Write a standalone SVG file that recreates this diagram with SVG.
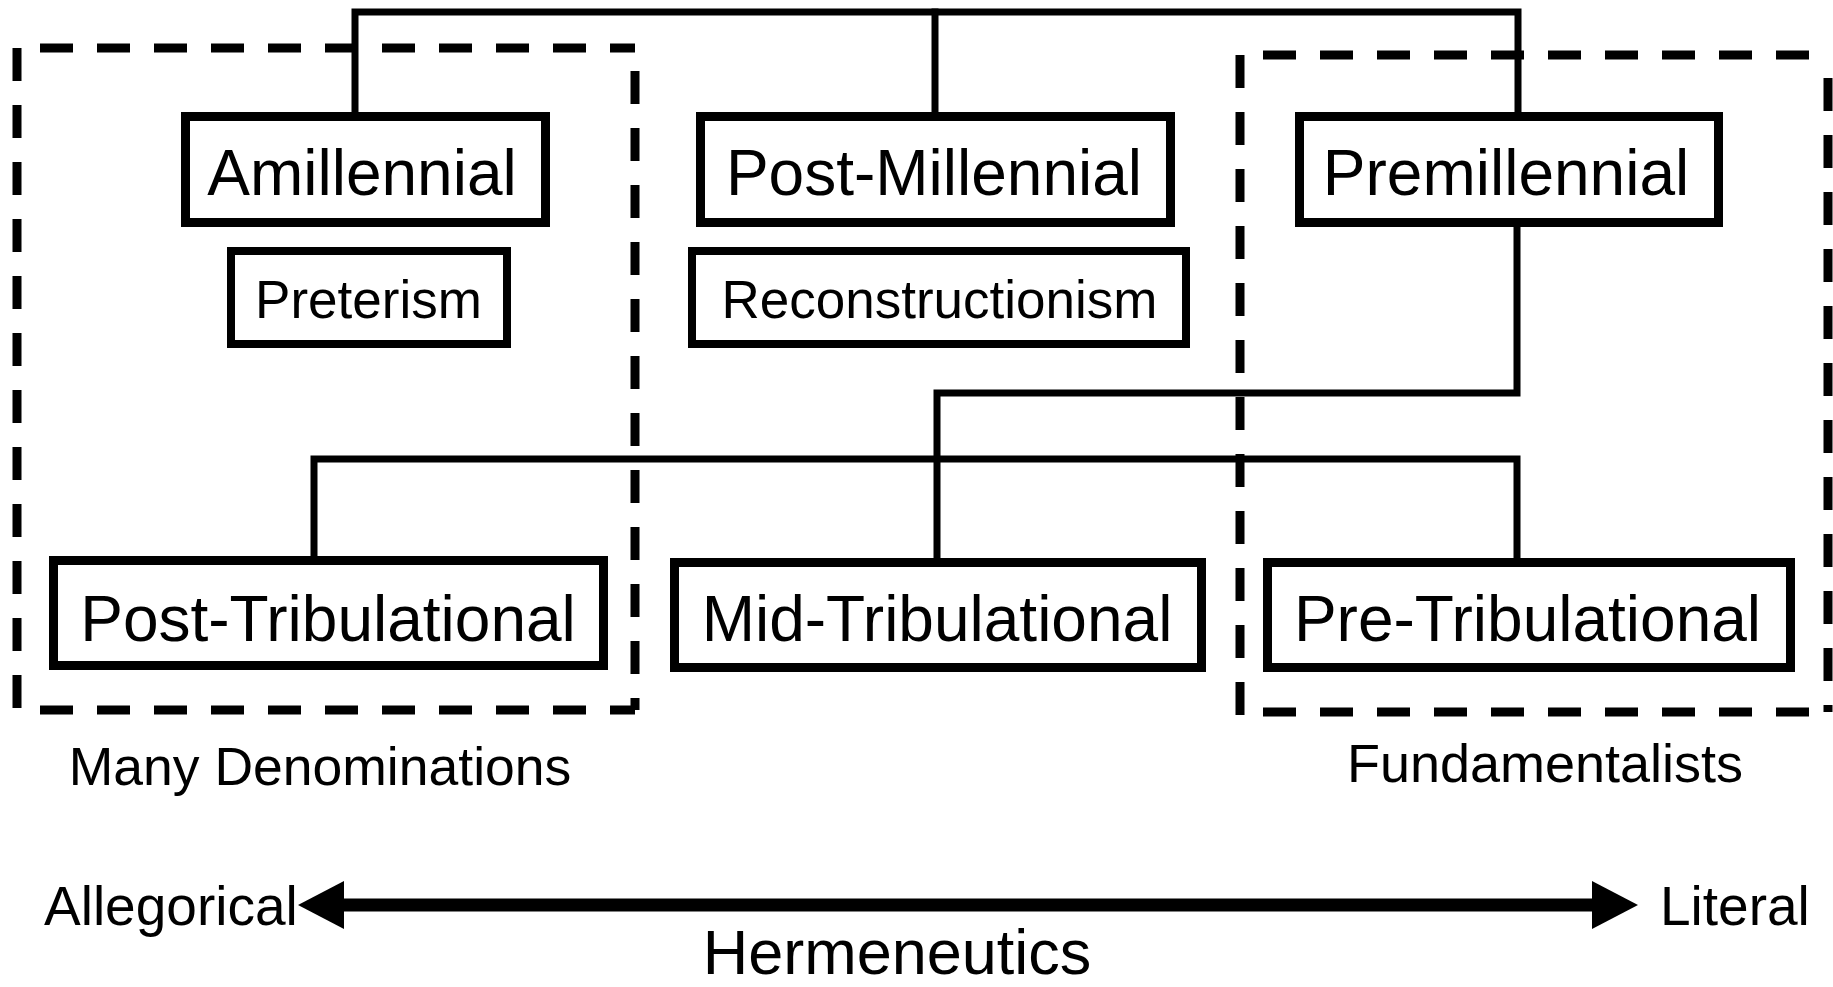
<svg xmlns="http://www.w3.org/2000/svg" width="1833" height="987" viewBox="0 0 1833 987">
<style>
.box{fill:#fff;stroke:#000;stroke-width:9}
.sbox{fill:#fff;stroke:#000;stroke-width:8}
.big{font-family:"Liberation Sans",Arial,sans-serif;font-size:64px;fill:#000;text-anchor:middle}
.mid{font-family:"Liberation Sans",Arial,sans-serif;font-size:53px;fill:#000;text-anchor:middle}
.lbl{font-family:"Liberation Sans",Arial,sans-serif;fill:#000}
.con{stroke:#000;stroke-width:7;fill:none;stroke-linecap:square}
.dash{stroke:#000;stroke-width:9;fill:none;stroke-dasharray:33 24}
</style>
<g id="groups">
  <g id="group-many">
    <line class="dash" x1="17" y1="48" x2="17" y2="714"/>
    <line class="dash" x1="17" y1="48" x2="635" y2="48" stroke-dashoffset="34"/>
    <line class="dash" x1="635" y1="48" x2="635" y2="710" stroke-dashoffset="34"/>
    <line class="dash" x1="17" y1="710" x2="635" y2="710" stroke-dashoffset="34"/>
  </g>
  <g id="group-fund">
    <line class="dash" x1="1240" y1="55" x2="1240" y2="716"/>
    <line class="dash" x1="1240" y1="55" x2="1828" y2="55" stroke-dashoffset="34"/>
    <line class="dash" x1="1828" y1="55" x2="1828" y2="712" stroke-dashoffset="34"/>
    <line class="dash" x1="1240" y1="712" x2="1828" y2="712" stroke-dashoffset="34"/>
  </g>
</g>
<g id="connectors">
  <polyline class="con" points="355,112 355,12 1518,12 1518,112"/>
  <line class="con" x1="935" y1="12" x2="935" y2="112"/>
  <polyline class="con" points="1517,227 1517,393 937,393 937,558"/>
  <polyline class="con" points="314,556 314,459 1517,459 1517,558"/>
</g>
<g id="node-amillennial">
  <rect class="box" x="185.5" y="116.5" width="360" height="106"/>
  <text class="big" x="362" y="195">Amillennial</text>
</g>
<g id="node-postmillennial">
  <rect class="box" x="700.5" y="116.5" width="470" height="106"/>
  <text class="big" x="934" y="195">Post-Millennial</text>
</g>
<g id="node-premillennial">
  <rect class="box" x="1299.5" y="116.5" width="419" height="106"/>
  <text class="big" x="1506" y="195">Premillennial</text>
</g>
<g id="node-preterism">
  <rect class="sbox" x="231" y="251" width="276" height="93"/>
  <text class="mid" x="368.5" y="318">Preterism</text>
</g>
<g id="node-reconstructionism">
  <rect class="sbox" x="692" y="251" width="494" height="93"/>
  <text class="mid" x="939.5" y="318">Reconstructionism</text>
</g>
<g id="node-posttrib">
  <rect class="box" x="53.5" y="560.5" width="550" height="105"/>
  <text class="big" x="328" y="641">Post-Tribulational</text>
</g>
<g id="node-midtrib">
  <rect class="box" x="674.5" y="562.5" width="527" height="105"/>
  <text class="big" x="937" y="641">Mid-Tribulational</text>
</g>
<g id="node-pretrib">
  <rect class="box" x="1267.5" y="562.5" width="523" height="105"/>
  <text class="big" x="1527.5" y="641">Pre-Tribulational</text>
</g>
<g id="labels">
  <text class="lbl" x="320" y="785" font-size="53.5" text-anchor="middle">Many Denominations</text>
  <text class="lbl" x="1545" y="782" font-size="54" text-anchor="middle">Fundamentalists</text>
  <text class="lbl" x="44" y="925" font-size="55">Allegorical</text>
  <text class="lbl" x="1660" y="925" font-size="55">Literal</text>
  <text class="lbl" x="897" y="974" font-size="63" text-anchor="middle">Hermeneutics</text>
</g>
<g id="axis">
  <line x1="340" y1="905" x2="1596" y2="905" stroke="#000" stroke-width="13"/>
  <polygon points="298,905 344,881 344,929" fill="#000"/>
  <polygon points="1638,905 1592,881 1592,929" fill="#000"/>
</g>
</svg>
